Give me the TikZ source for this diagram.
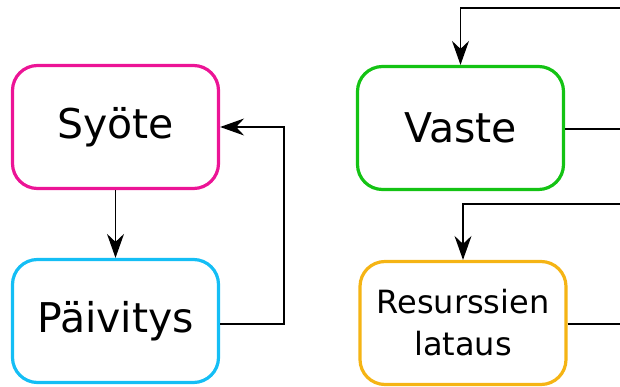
\documentclass[tikz,border=0pt]{standalone}
\usepackage{fontspec}
\setmainfont{DejaVu Sans}
\usetikzlibrary{arrows.meta}
\definecolor{cpink}{RGB}{236,20,150}
\definecolor{ccyan}{RGB}{20,190,245}
\definecolor{cgreen}{RGB}{20,195,20}
\definecolor{corange}{RGB}{245,180,20}
\tikzset{
  box/.style={draw, line width=3.2pt, rounded corners=25pt, minimum width=206pt, minimum height=123pt, inner sep=0pt, align=center},
  conn/.style={draw, line width=1.4pt, -{Stealth[length=24pt,width=17pt,inset=8pt]}},
  plain/.style={draw, line width=1.4pt}
}
\begin{document}
\begin{tikzpicture}[x=1pt,y=-1pt]
\useasboundingbox (0,0) rectangle (620,387);
\node[box, draw=cpink, font=\fontsize{41}{48}\selectfont] (syote) at (115.5,127) {Syöte};
\node[box, draw=ccyan, font=\fontsize{41}{48}\selectfont] (paiv) at (115.5,321) {Päivitys};
\node[box, draw=cgreen, font=\fontsize{41}{48}\selectfont] (vaste) at (460.5,128) {Vaste};
\node[box, draw=corange, font=\fontsize{32}{42}\selectfont] (res) at (463,323) {Resurssien\\lataus};
\coordinate (vin) at (620,8);
\coordinate (vout) at (620,129);
\coordinate (rin) at (620,204);
\coordinate (rout) at (620,324);
\coordinate (loop) at (284,324);
\draw[conn] (syote.south) -- (paiv.north);
\draw[conn] (paiv.east |- loop) -- (loop) |- (syote.east);
\draw[conn] (vin) -| (vaste.north);
\draw[plain] (vaste.east |- vout) -- (vout);
\draw[conn] (rin) -| (res.north);
\draw[plain] (res.east |- rout) -- (rout);
\end{tikzpicture}
\end{document}
